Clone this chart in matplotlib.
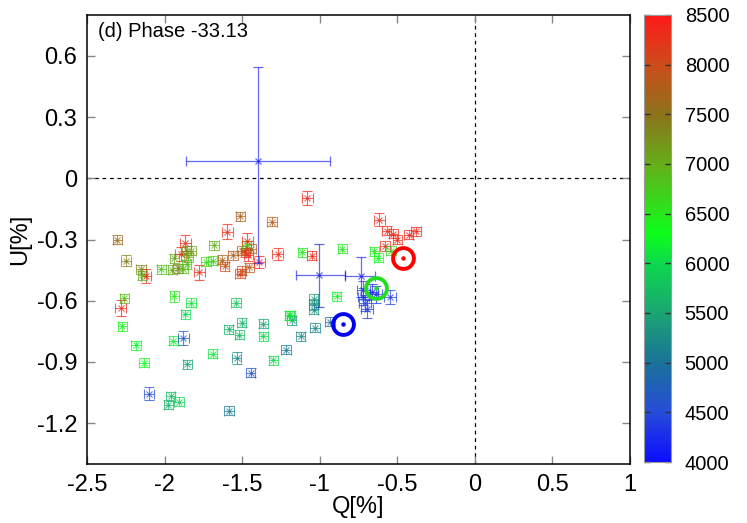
import matplotlib
matplotlib.use("Agg")
import matplotlib.pyplot as plt
import numpy as np
from matplotlib.colors import LinearSegmentedColormap, Normalize
from matplotlib.ticker import FuncFormatter

plt.rcParams['font.family'] = ['Liberation Sans', 'DejaVu Sans']
plt.rcParams['axes.unicode_minus'] = False

# ---- data: small points (Q, U, wavelength, errors) ----
q_vals = [-2.305, -2.249, -2.152, -2.120, -2.143, -2.260, -2.283, -2.020, -1.950, -1.915,
          -1.937, -1.896, -1.868, -1.879, -1.857, -1.847, -1.830, -1.857, -1.776, -1.733,
          -1.690, -1.681, -1.628, -1.612, -1.595, -1.559, -1.512, -1.514, -1.503, -1.503,
          -1.480, -1.471, -1.467, -1.460, -1.454, -1.443, -1.391, -1.307, -1.270, -1.112,
          -1.080, -1.051, -0.855, -0.616, -0.568, -0.525, -0.500, -0.427, -0.379, -0.579,
          -0.648, -0.622, -0.540,
          -1.937, -1.830, -1.866, -1.539, -2.272, -2.184, -2.132, -2.100, -1.944, -1.879,
          -1.853, -1.960, -1.976, -1.907, -1.690, -1.586, -1.503, -1.518, -1.535, -1.445,
          -1.584, -1.363, -1.363, -1.299, -1.196, -1.180, -1.191, -1.217, -1.122, -1.040,
          -1.040, -1.040, -0.890, -1.030, -0.933,
          -0.718, -0.637, -0.546, -0.708, -0.697, -0.660, -0.720]
u_vals = [-0.301, -0.403, -0.445, -0.478, -0.476, -0.587, -0.636, -0.445, -0.448, -0.440,
          -0.391, -0.370, -0.318, -0.443, -0.422, -0.386, -0.354, -0.354, -0.461, -0.408,
          -0.403, -0.329, -0.398, -0.430, -0.261, -0.377, -0.186, -0.468, -0.452, -0.354,
          -0.362, -0.329, -0.305, -0.378, -0.435, -0.346, -0.412, -0.212, -0.370, -0.362,
          -0.096, -0.380, -0.346, -0.202, -0.256, -0.272, -0.301, -0.276, -0.259, -0.333,
          -0.357, -0.390, -0.354,
          -0.579, -0.611, -0.667, -0.611, -0.726, -0.818, -0.905, -1.055, -0.797, -0.781,
          -0.911, -1.067, -1.109, -1.096, -0.859, -0.740, -0.708, -0.766, -0.879, -0.952,
          -1.140, -0.712, -0.773, -0.892, -0.672, -0.696, -0.672, -0.840, -0.773, -0.590,
          -0.618, -0.644, -0.579, -0.732, -0.704,
          -0.546, -0.569, -0.582, -0.611, -0.639, -0.555, -0.580]
wave_vals = [7600, 7400, 7300, 8300, 7000, 6900, 8400, 6800, 7100, 7300,
             7000, 8300, 8300, 6900, 6800, 7000, 7100, 7200, 8300, 6600,
             6700, 7000, 7700, 8000, 8300, 7800, 7700, 8100, 8000, 7800,
             8300, 6500, 8300, 8400, 7800, 7700, 8400, 7800, 8300, 6500,
             8400, 8300, 6500, 8300, 8300, 8300, 8300, 8400, 8400, 8300,
             6500, 6300, 6600,
             6500, 6100, 6000, 5800, 6400, 6200, 6300, 4500, 6200, 4700,
             5500, 5700, 5600, 5900, 6100, 5600, 5600, 5700, 5200, 4600,
             5100, 5500, 6000, 6000, 5700, 5400, 6300, 5100, 5200, 5400,
             5300, 5300, 6200, 5200, 4900,
             4400, 4300, 4400, 4400, 4300, 4200, 4500]
q_err = [0.030, 0.030, 0.030, 0.035, 0.030, 0.030, 0.035, 0.030, 0.030, 0.030,
         0.030, 0.035, 0.035, 0.030, 0.030, 0.030, 0.030, 0.030, 0.035, 0.030,
         0.030, 0.030, 0.030, 0.030, 0.035, 0.030, 0.030, 0.030, 0.030, 0.030,
         0.030, 0.030, 0.035, 0.030, 0.030, 0.030, 0.035, 0.030, 0.035, 0.030,
         0.035, 0.030, 0.030, 0.035, 0.030, 0.030, 0.030, 0.030, 0.030, 0.030,
         0.030, 0.030, 0.030,
         0.030, 0.030, 0.030, 0.030, 0.030, 0.030, 0.030, 0.030, 0.030, 0.035,
         0.030, 0.030, 0.030, 0.030, 0.030, 0.030, 0.030, 0.030, 0.030, 0.030,
         0.030, 0.030, 0.030, 0.030, 0.030, 0.030, 0.030, 0.030, 0.030, 0.030,
         0.030, 0.030, 0.030, 0.030, 0.030,
         0.040, 0.040, 0.040, 0.040, 0.040, 0.035, 0.035]
u_err = [0.022, 0.025, 0.022, 0.035, 0.022, 0.022, 0.040, 0.022, 0.022, 0.022,
         0.022, 0.035, 0.040, 0.022, 0.022, 0.022, 0.022, 0.022, 0.035, 0.022,
         0.022, 0.022, 0.022, 0.022, 0.035, 0.022, 0.022, 0.022, 0.022, 0.022,
         0.022, 0.022, 0.035, 0.025, 0.022, 0.022, 0.030, 0.022, 0.030, 0.022,
         0.035, 0.022, 0.022, 0.030, 0.022, 0.022, 0.022, 0.022, 0.022, 0.025,
         0.022, 0.022, 0.022,
         0.025, 0.022, 0.022, 0.022, 0.022, 0.022, 0.022, 0.030, 0.022, 0.035,
         0.022, 0.022, 0.022, 0.022, 0.022, 0.022, 0.022, 0.022, 0.030, 0.022,
         0.022, 0.022, 0.022, 0.022, 0.022, 0.022, 0.022, 0.022, 0.022, 0.022,
         0.022, 0.022, 0.022, 0.022, 0.022,
         0.045, 0.040, 0.035, 0.040, 0.045, 0.035, 0.040]

# ---- data: large-error points ----
big_q = [-1.396, -1.002, -0.735]
big_u = [0.087, -0.476, -0.481]
big_q_lo = [0.466, 0.152, 0.102]
big_q_hi = [0.463, 0.162, 0.092]
big_u_lo = [0.500, 0.155, 0.099]
big_u_hi = [0.460, 0.155, 0.095]
big_wave = [4100, 4100, 4100]

# ---- data: circled reference points ----
circ_q = [-0.461, -0.637, -0.847]
circ_u = [-0.390, -0.536, -0.716]
circ_colors = ['#ff0000', '#22dd22', '#0000ee']

label_text = "(d) Phase -33.13"
x_ticks = [-2.5, -2, -1.5, -1, -0.5, 0, 0.5, 1]
y_ticks = [-1.2, -0.9, -0.6, -0.3, 0, 0.3, 0.6]
cbar_ticks = [4000, 4500, 5000, 5500, 6000, 6500, 7000, 7500, 8000, 8500]

# ---- colormap ----
nodes = [(4000, (0.05, 0.05, 1.0)),
         (4500, (0.15, 0.30, 0.85)),
         (5000, (0.10, 0.45, 0.60)),
         (5500, (0.10, 0.65, 0.45)),
         (6000, (0.05, 0.85, 0.30)),
         (6300, (0.05, 1.00, 0.10)),
         (7000, (0.40, 0.68, 0.10)),
         (7500, (0.55, 0.45, 0.10)),
         (8000, (0.80, 0.30, 0.10)),
         (8500, (1.00, 0.10, 0.10))]
vmin, vmax = 4000, 8500
cmap = LinearSegmentedColormap.from_list(
    'spec', [((w - vmin) / (vmax - vmin), c) for w, c in nodes])
norm = Normalize(vmin=vmin, vmax=vmax)

fig = plt.figure(figsize=(7.47, 5.23), dpi=100)
ax = fig.add_axes([0.1165, 0.1128, 0.7269, 0.8585])

ax.axhline(0, color='black', lw=0.9, ls=(0, (3, 3)), zorder=1)
ax.axvline(0, color='black', lw=0.9, ls=(0, (3, 3)), zorder=1)

for q, u, w, qe, ue in zip(q_vals, u_vals, wave_vals, q_err, u_err):
    c = cmap(norm(w))
    ax.errorbar(q, u, xerr=qe, yerr=ue, fmt='x', color=c, ms=4, mew=0.8,
                elinewidth=0.8, capsize=3.3, capthick=0.8, alpha=0.72, zorder=3)

for q, u, ql, qh, ul, uh, w in zip(big_q, big_u, big_q_lo, big_q_hi,
                                   big_u_lo, big_u_hi, big_wave):
    c = cmap(norm(w))
    ax.errorbar(q, u, xerr=[[ql], [qh]], yerr=[[ul], [uh]], fmt='x', color=c,
                ms=5, mew=0.9, elinewidth=0.9, capsize=3.5, capthick=0.9,
                alpha=0.65, zorder=4)

for q, u, c in zip(circ_q, circ_u, circ_colors):
    ax.plot(q, u, 'o', ms=15, mfc='none', mec=c, mew=2.8, zorder=6)
    ax.plot(q, u, 'o', ms=2.2, color=c, zorder=6)

ax.set_xlim(-2.5, 1.0)
ax.set_ylim(-1.4, 0.8)
ax.set_xticks(x_ticks)
ax.set_yticks(y_ticks)
fmt = FuncFormatter(lambda v, p: ('%g' % round(v, 3)) if abs(v) > 1e-9 else '0')
ax.xaxis.set_major_formatter(fmt)
ax.yaxis.set_major_formatter(fmt)
ax.tick_params(direction='in', length=6, width=1, color='#888888',
               top=True, right=True, labelsize=17, pad=7, labelcolor='black')
for s in ax.spines.values():
    s.set_linewidth(1.1)
ax.set_xlabel('Q[%]', fontsize=17, labelpad=0)
ax.set_ylabel('U[%]', fontsize=17, labelpad=4)
ax.text(0.02, 0.985, label_text, transform=ax.transAxes, fontsize=14.5,
        ha='left', va='top')

cax = fig.add_axes([0.862, 0.1166, 0.036, 0.855])
sm = plt.cm.ScalarMappable(norm=norm, cmap=cmap)
cb = fig.colorbar(sm, cax=cax, ticks=cbar_ticks)
cb.outline.set_edgecolor('#999999')
cb.outline.set_linewidth(0.8)
cax.tick_params(direction='in', length=4, width=1, color='#333333',
                left=True, right=True, labelsize=14.5, pad=10)

fig.savefig('out.png', dpi=100)
